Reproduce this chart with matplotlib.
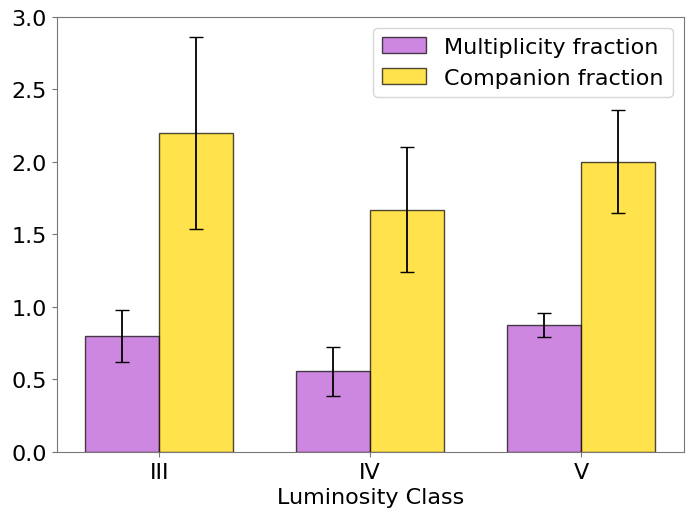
import matplotlib
matplotlib.use("Agg")
import matplotlib.pyplot as plt
import numpy as np

# luminosity classes and fractions
classes = ['III', 'IV', 'V']
mult_frac = [0.80, 0.555, 0.875]
mult_err = [0.18, 0.17, 0.085]
comp_frac = [2.20, 1.67, 2.00]
comp_err = [0.66, 0.43, 0.355]

plt.rcParams['font.size'] = 16

fig = plt.figure(figsize=(6.92, 5.10), dpi=100)
ax = fig.add_axes([0.082, 0.112, 0.906, 0.853])

x = np.arange(len(classes))
width = 0.35
ax.bar(x - width/2, mult_frac, width, yerr=mult_err, capsize=5,
       color='mediumorchid', edgecolor='black', alpha=0.7,
       label='Multiplicity fraction', error_kw=dict(ecolor='black', elinewidth=1.3, alpha=1))
ax.bar(x + width/2, comp_frac, width, yerr=comp_err, capsize=5,
       color='gold', edgecolor='black', alpha=0.7,
       label='Companion fraction', error_kw=dict(ecolor='black', elinewidth=1.3, alpha=1))

ax.set_xticks(x)
ax.set_xticklabels(classes)
ax.set_xlabel('Luminosity Class')
ax.set_ylim(0, 3.0)
ax.set_xlim(-0.485, 2.485)

for s in ax.spines.values():
    s.set_color('#777777')
ax.tick_params(color='#777777')

ax.legend(loc='upper right')

fig.savefig('out.png', dpi=100)
